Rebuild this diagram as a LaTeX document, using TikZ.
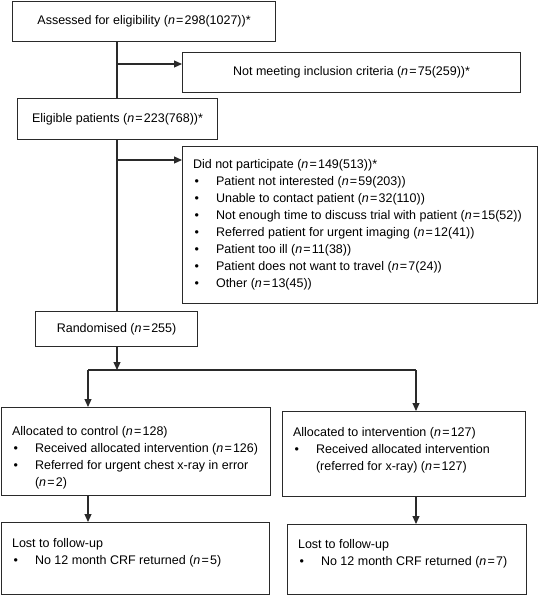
\documentclass[tikz,border=0pt]{standalone}
\usepackage{fontspec}
\setmainfont{Liberation Sans}
\usetikzlibrary{arrows.meta}
\definecolor{boxc}{HTML}{2A2A2A}
\newcommand\bl{\makebox[23pt][l]{\hspace{1.5pt}\textbullet}}
\newcommand\nn{\textit{n}\hspace{1.2pt}=\hspace{1.2pt}}
\newcommand\inbox[4]{\parbox[c][#1][t]{#2}{\leftskip=10.5pt\vspace*{#3}\rule{0pt}{10pt}#4}}
\tikzset{
  box/.style={draw=boxc, line width=1.1pt, inner sep=0pt, anchor=north west, align=center},
  ln/.style={draw=boxc, line width=1.1pt},
  arr/.style={draw=boxc, line width=1.1pt, -{Triangle[length=8pt,width=7pt]}},
}
\begin{document}
\begin{tikzpicture}[x=1pt,y=-1pt,font=\fontsize{12.5}{17}\selectfont]
\useasboundingbox (0,0) rectangle (542,596);
\node[box, minimum width=263pt, minimum height=40pt] (assess) at (12,1) {Assessed for eligibility (\nn298(1027))*};
\node[box, minimum width=338pt, minimum height=40pt] (notmeet) at (182,52) {Not meeting inclusion criteria (\nn75(259))*};
\node[box, minimum width=200pt, minimum height=41pt] (elig) at (17,98) {Eligible patients (\nn223(768))*};
\node[box] (dnp) at (182,146) {\inbox{157pt}{355pt}{12pt}{Did not participate (\nn149(513))*\\
\bl Patient not interested (\nn59(203))\\
\bl Unable to contact patient (\nn32(110))\\
\bl Not enough time to discuss trial with patient (\nn15(52))\\
\bl Referred patient for urgent imaging (\nn12(41))\\
\bl Patient too ill (\nn11(38))\\
\bl Patient does not want to travel (\nn7(24))\\
\bl Other (\nn13(45))}};
\node[box, minimum width=162pt, minimum height=35pt] (rand) at (35,311) {Randomised (\nn255)};
\node[box] (ctrl) at (1,407) {\inbox{88pt}{269pt}{18pt}{Allocated to control (\nn128)\\
\bl Received allocated intervention (\nn126)\\
\bl Referred for urgent chest x-ray in error\\
\hspace*{23pt}(\nn2)}};
\node[box] (intv) at (282,411) {\inbox{85pt}{243pt}{15pt}{Allocated to intervention (\nn127)\\
\bl Received allocated intervention\\
\hspace*{23pt}(referred for x-ray) (\nn127)}};
\node[box] (lostc) at (1,522) {\inbox{72pt}{268pt}{15pt}{Lost to follow-up\\
\bl No 12 month CRF returned (\nn5)}};
\node[box] (losti) at (287,524) {\inbox{70pt}{239pt}{14pt}{Lost to follow-up\\
\bl No 12 month CRF returned (\nn7)}};
\coordinate (j1) at (117,64);
\coordinate (j2) at (117,160);
\coordinate (sp) at (117,370);
\coordinate (sl) at (88,370);
\coordinate (sr) at (416,370);
\draw[ln] (j1 |- assess.south) -- (j1 |- elig.north);
\draw[arr] (j1) -- (j1 -| notmeet.west);
\draw[ln] (j2 |- elig.south) -- (j2 |- rand.north);
\draw[arr] (j2) -- (j2 -| dnp.west);
\draw[arr] (sp |- rand.south) -- (sp);
\draw[ln] (sl) -- (sr);
\draw[arr] (sl) -- (sl |- ctrl.north);
\draw[arr] (sr) -- (sr |- intv.north);
\draw[arr] (ctrl.south -| sl) -- (sl |- lostc.north);
\draw[arr] (intv.south -| sr) -- (sr |- losti.north);
\end{tikzpicture}
\end{document}
